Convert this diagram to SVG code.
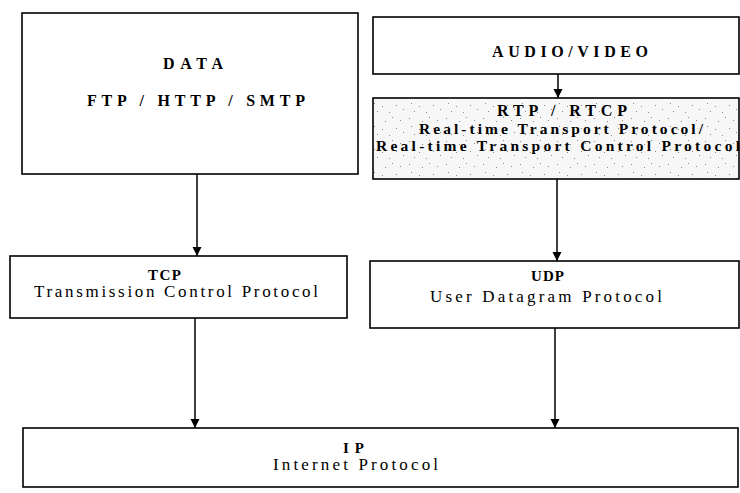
<svg xmlns="http://www.w3.org/2000/svg" width="740" height="493" viewBox="0 0 740 493">
<defs>
<style>
.box{fill:#fff;stroke:#000;stroke-width:1.6}
.t{font-family:"Liberation Serif","Times New Roman",serif;fill:#000}
.b{font-weight:bold;font-size:16px}
.bs{font-weight:bold;font-size:15px}
.r{font-size:17px}
.rb{font-weight:bold;font-size:15.5px}
.c{stroke:#000;stroke-width:1.5;fill:none}
</style>
<marker id="ah" markerWidth="10" markerHeight="10" refX="9" refY="5" orient="auto" markerUnits="userSpaceOnUse" viewBox="0 0 10 10">
<path d="M0,0.5 L9,5 L0,9.5 Z" fill="#000"/>
</marker>
<pattern id="stip" width="37" height="23" patternUnits="userSpaceOnUse">
<rect width="37" height="23" fill="#f7f7f7"/>
<g fill="#8a8a8a">
<rect x="2" y="3" width="1" height="1"/><rect x="15" y="6" width="1" height="1"/>
<rect x="22" y="2" width="1" height="1"/><rect x="30" y="5" width="1" height="1"/>
<rect x="12" y="14" width="1" height="1"/><rect x="26" y="13" width="1" height="1"/>
<rect x="33" y="17" width="1" height="1"/><rect x="7" y="19" width="1" height="1"/>
<rect x="19" y="20" width="1" height="1"/><rect x="4" y="11" width="1" height="1"/>
</g>
</pattern>
</defs>

<g id="connectors">
<line class="c" x1="197" y1="174" x2="197" y2="256" marker-end="url(#ah)"/>
<line class="c" x1="558" y1="74" x2="558" y2="98" marker-end="url(#ah)"/>
<line class="c" x1="557" y1="179" x2="557" y2="261" marker-end="url(#ah)"/>
<line class="c" x1="195" y1="318" x2="195" y2="428" marker-end="url(#ah)"/>
<line class="c" x1="555" y1="328" x2="555" y2="428" marker-end="url(#ah)"/>
</g>

<g id="data">
<rect class="box" x="22" y="13" width="336" height="161"/>
<text class="t b" x="163" y="69" textLength="60" lengthAdjust="spacing">DATA</text>
<text class="t b" x="87" y="106" textLength="218" lengthAdjust="spacing">FTP / HTTP / SMTP</text>
</g>

<g id="audio-video">
<rect class="box" x="373" y="17" width="366" height="57"/>
<text class="t b" x="492" y="57" textLength="156" lengthAdjust="spacing">AUDIO/VIDEO</text>
</g>

<g id="rtp-rtcp">
<rect class="box" x="373" y="98" width="366" height="81" style="fill:url(#stip)"/>
<text class="t b" x="497" y="116" textLength="130" lengthAdjust="spacing">RTP / RTCP</text>
<text class="t rb" x="419" y="134" textLength="284" lengthAdjust="spacing">Real-time Transport Protocol/</text>
<text class="t rb" x="376" y="151" textLength="364" lengthAdjust="spacing">Real-time Transport Control Protocol</text>
</g>

<g id="tcp">
<rect class="box" x="10" y="256" width="337" height="62"/>
<text class="t bs" x="148" y="280" textLength="33" lengthAdjust="spacing">TCP</text>
<text class="t r" x="34" y="297" textLength="284" lengthAdjust="spacing">Transmission Control Protocol</text>
</g>

<g id="udp">
<rect class="box" x="370" y="261" width="369" height="67"/>
<text class="t bs" x="531" y="281" textLength="33" lengthAdjust="spacing">UDP</text>
<text class="t r" x="430" y="302" textLength="232" lengthAdjust="spacing">User Datagram Protocol</text>
</g>

<g id="ip">
<rect class="box" x="23" y="428" width="715" height="59"/>
<text class="t bs" x="343" y="453" textLength="21" lengthAdjust="spacing">IP</text>
<text class="t r" x="273" y="470" textLength="165" lengthAdjust="spacing">Internet Protocol</text>
</g>
</svg>
